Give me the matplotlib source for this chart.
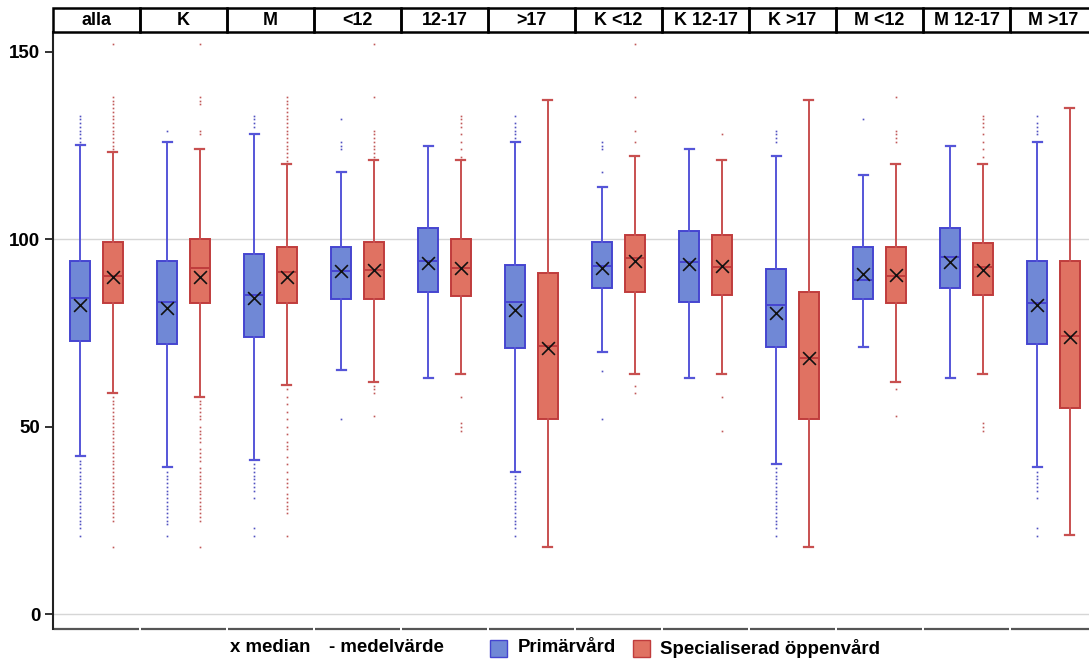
import matplotlib
matplotlib.use("Agg")
import matplotlib.pyplot as plt
from matplotlib.patches import Rectangle

plt.rcParams['font.family'] = ['Liberation Sans', 'DejaVu Sans']

panels = ["alla", "K", "M", "<12", "12-17", ">17", "K <12", "K 12-17",
          "K >17", "M <12", "M 12-17", "M >17"]
series_names = ["Primärvård", "Specialiserad öppenvård"]

# Primärvård: whisker high, Q3, mean, median, Q1, whisker low
prim_whishi = [125.1, 126.0, 128.1, 118.0, 125.0, 126.0, 114.0, 124.1, 122.2, 117.1, 125.0, 126.0]
prim_q3 = [94.2, 94.2, 96.1, 98.0, 103.1, 93.1, 99.2, 102.2, 92.2, 98.0, 103.1, 94.2]
prim_mean = [84.3, 83.2, 85.2, 91.6, 94.3, 83.2, 93.0, 94.0, 82.4, 89.3, 95.3, 83.1]
prim_median = [82.5, 81.6, 84.3, 91.6, 93.6, 81.2, 92.4, 93.4, 80.5, 90.7, 94.0, 82.4]
prim_q1 = [73.0, 72.0, 74.0, 84.1, 86.0, 71.1, 87.1, 83.2, 71.2, 84.1, 87.1, 72.1]
prim_whislo = [42.2, 39.2, 41.2, 65.2, 63.1, 38.1, 70.0, 63.1, 40.1, 71.2, 63.1, 39.2]
prim_outliers = [
    [126, 127, 128, 129, 130, 131, 132, 133, 41, 40, 39, 38, 37, 36, 35, 34, 33, 32,
     31, 30, 29, 28, 27, 26, 25, 24, 23, 21],
    [129, 38, 37, 36, 35, 34, 33, 32, 31, 30, 29, 28, 27, 26, 25, 24, 21],
    [130, 131, 132, 133, 40, 39, 38, 37, 36, 35, 34, 33, 31, 23, 21],
    [124, 125, 126, 132, 52],
    [],
    [127, 128, 129, 130, 131, 133, 37, 36, 35, 34, 33, 32, 31, 30, 29, 28, 27, 26,
     25, 24, 23, 21],
    [118, 124, 125, 126, 65, 52],
    [],
    [126, 127, 128, 129, 39, 38, 37, 36, 35, 34, 33, 32, 31, 30, 29, 28, 27, 26, 25,
     24, 23, 21],
    [132],
    [],
    [128, 129, 130, 131, 133, 38, 37, 36, 35, 34, 33, 31, 23, 21],
]

# Specialiserad öppenvård
spec_whishi = [123.2, 124.1, 120.2, 121.1, 121.1, 137.1, 122.1, 121.1, 137.1, 120.2, 120.1, 135.1]
spec_q3 = [99.2, 100.1, 98.0, 99.2, 100.1, 91.1, 101.1, 101.1, 86.0, 98.0, 99.1, 94.2]
spec_mean = [90.3, 92.3, 91.4, 91.8, 92.3, 71.5, 94.9, 92.7, 68.5, 90.2, 92.7, 74.3]
spec_median = [89.9, 89.9, 89.9, 91.8, 92.3, 71.1, 94.3, 92.9, 68.3, 90.5, 91.8, 74.0]
spec_q1 = [83.1, 83.1, 83.1, 84.1, 85.0, 52.1, 86.0, 85.1, 52.1, 83.1, 85.1, 55.0]
spec_whislo = [59.1, 58.1, 61.2, 62.1, 64.2, 18.1, 64.2, 64.2, 18.1, 62.1, 64.2, 21.2]
spec_outliers = [
    [124, 125, 126, 127, 128, 129, 130, 131, 132, 133, 134, 135, 136, 137, 138, 152,
     58, 57, 56, 55, 54, 53, 52, 51, 50, 49, 48, 47, 46, 45, 44, 43, 42, 41, 40, 39,
     38, 37, 36, 35, 34, 33, 32, 31, 30, 29, 28, 27, 26, 25, 18],
    [128, 129, 136, 137, 138, 152, 57, 56, 55, 54, 53, 52, 50, 49, 48, 47, 46, 44,
     43, 42, 41, 39, 38, 37, 36, 35, 34, 33, 32, 31, 30, 29, 28, 27, 26, 25, 18],
    [121, 122, 123, 124, 125, 126, 127, 128, 129, 130, 131, 132, 133, 134, 135, 136,
     137, 138, 60, 58, 56, 54, 52, 50, 48, 46, 45, 44, 42, 40, 38, 36, 35, 34, 32,
     31, 30, 29, 28, 27, 21],
    [122, 123, 124, 125, 126, 127, 128, 129, 138, 152, 61, 60, 59, 53],
    [122, 124, 126, 128, 130, 131, 132, 133, 58, 51, 50, 49],
    [],
    [126, 129, 138, 152, 61, 59],
    [128, 58, 49],
    [],
    [126, 127, 128, 129, 138, 60, 53],
    [122, 124, 126, 128, 130, 131, 132, 133, 51, 50, 49],
    [],
]

legend_note_median = "x median"
legend_note_mean = "- medelvärde"

W, H = 1089, 661
fig = plt.figure(figsize=(W / 100, H / 100), dpi=100)

ax_left = 53 / W
ax_w = 1044 / W
ax_bottom = 1 - 629.3 / H
ax_top = 1 - 32.3 / H
ax = fig.add_axes([ax_left, ax_bottom, ax_w, ax_top - ax_bottom])
hax = fig.add_axes([ax_left, ax_top, ax_w, (32.3 - 7.5) / H])

n = len(panels)
off = 0.184
bw = 0.23

colors = {
    0: dict(fill="#7088d6", edge="#4545d0", whisk="#5555d8", flier="#5050c0"),
    1: dict(fill="#e07262", edge="#c03c3c", whisk="#c85050", flier="#c05858"),
}

datasets = [
    (prim_whishi, prim_q3, prim_mean, prim_median, prim_q1, prim_whislo, prim_outliers),
    (spec_whishi, spec_q3, spec_mean, spec_median, spec_q1, spec_whislo, spec_outliers),
]

# reference lines
for yv in (0, 100):
    ax.axhline(yv, color="#d6d6d6", lw=1.0, zorder=0)

for s, (whi, q3, mean, med, q1, wlo, outl) in enumerate(datasets):
    c = colors[s]
    stats = []
    for i in range(n):
        stats.append(dict(med=mean[i], q1=q1[i], q3=q3[i], whislo=wlo[i],
                          whishi=whi[i], fliers=outl[i], mean=mean[i]))
    pos = [i + (-off if s == 0 else off) for i in range(n)]
    ax.bxp(stats, positions=pos, widths=bw, patch_artist=True, showmeans=False,
           showfliers=True, capwidths=0.1,
           boxprops=dict(facecolor=c["fill"], edgecolor=c["edge"], linewidth=1.4),
           medianprops=dict(color=c["edge"], linewidth=1.4),
           whiskerprops=dict(color=c["whisk"], linewidth=1.4),
           capprops=dict(color=c["whisk"], linewidth=1.6),
           flierprops=dict(marker='s', markersize=1.2, markerfacecolor=c["flier"],
                           markeredgecolor='none', linestyle='none'))
    ax.scatter(pos, med, marker='x', s=85, color="#111111", linewidths=1.2, zorder=5)

ax.set_xlim(-0.5, n - 0.5)
ax.set_ylim(-3.95, 155.2)
ax.set_yticks([0, 50, 100, 150])
ax.set_yticklabels(["0", "50", "100", "150"], fontweight='bold', fontsize=13.5)
ax.tick_params(axis='y', length=6, width=1.3, color="#222222", pad=3)
ax.tick_params(axis='x', length=0, labelbottom=False)
for sp in ("top", "right", "bottom"):
    ax.spines[sp].set_visible(False)
ax.spines["left"].set_linewidth(1.5)
ax.spines["left"].set_color("#222222")

# per-panel bottom axis lines
for i in range(n):
    ax.plot([i - 0.49, i + 0.49], [0, 0], transform=ax.get_xaxis_transform(),
            color="#555555", lw=1.6, clip_on=False, solid_capstyle='butt')

# header boxes
hax.set_xlim(-0.5, n - 0.5)
hax.set_ylim(0, 1)
hax.axis('off')
for i, lab in enumerate(panels):
    hax.add_patch(Rectangle((i - 0.5, 0), 1, 1, fill=False, edgecolor="black",
                            linewidth=1.8, clip_on=False))
    hax.text(i, 0.48, lab, ha='center', va='center', fontsize=12.9, fontweight='bold')

# legend at bottom
ly = 1 - 648 / H
fig.text(230 / W, ly, legend_note_median, fontsize=13.4, fontweight='bold', va='center')
fig.text(329 / W, ly, legend_note_mean, fontsize=13.4, fontweight='bold', va='center')
for k, (sx, tx) in enumerate([(490, 518), (633, 660)]):
    fig.patches.append(Rectangle((sx / W, 1 - 657 / H), 17 / W, 17 / H,
                                 transform=fig.transFigure, facecolor=colors[k]["fill"],
                                 edgecolor=colors[k]["edge"], linewidth=1.0))
    fig.text(tx / W, ly, series_names[k], fontsize=13.4, fontweight='bold', va='center')

fig.savefig("out.png", dpi=100)
